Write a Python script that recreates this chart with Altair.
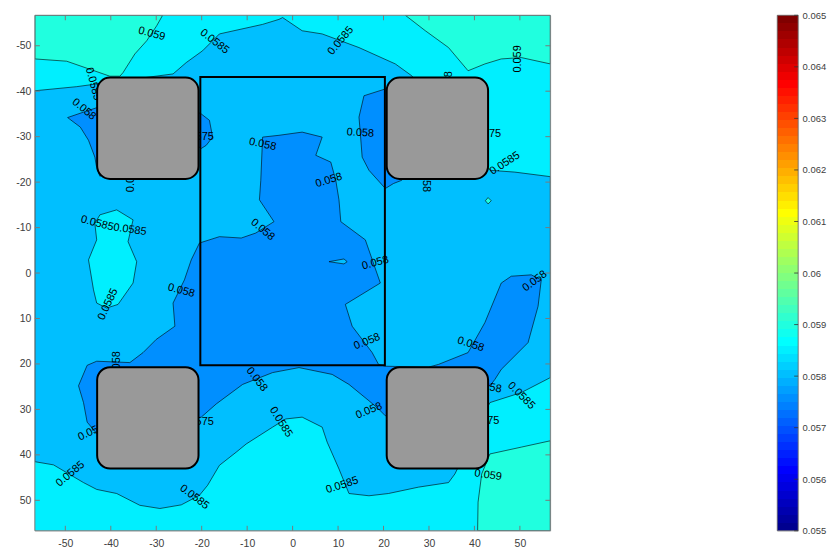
import altair as alt
import pandas as pd

# ---------------- values ----------------
FONT = "Liberation Sans"
X_DOMAIN = [-56.7, 56.7]
Y_DOMAIN = [-56.7, 56.7]
AXIS_TICKS = [-50, -40, -30, -20, -10, 0, 10, 20, 30, 40, 50]
CBAR_RANGE = [0.055, 0.065]
CBAR_TICKS = [0.055, 0.056, 0.057, 0.058, 0.059, 0.060, 0.061, 0.062, 0.063, 0.064, 0.065]

# fill colours of the contour bands (jet colours of the levels)
COL_D = "#008FFF"   # 0.0575 - 0.058
COL_M = "#00BFFF"   # 0.058 - 0.0585
COL_C = "#00EFFF"   # 0.0585 - 0.059
COL_G = "#20FFDF"   # > 0.059

E = 56.7  # edge of the plotted range

# region boundaries, data units (x, y)
G_TOP_LEFT = [(-E, -E), (-E, -47.1), (-49.7, -46.6), (-40.2, -43.3), (-38.0, -43.3), (-37.3, -44.1),
              (-34.7, -48.2), (-32.1, -51.1), (-29.9, -54.4), (-28.6, -E)]
G_TOP_RIGHT = [(24.8, -E), (29.2, -53.3), (34.3, -49.6), (38.6, -44.5), (42.3, -46.0), (45.9, -47.1),
               (50.3, -47.4), (E, -46.0), (E, -E)]
G_BOTTOM_RIGHT = [(E, 36.9), (50.3, 38.3), (43.4, 39.8), (41.6, 44.2), (40.8, 50.4), (40.7, E), (E, E)]
G_DOT = [(42.4, -15.9), (43.0, -16.6), (43.7, -15.9), (43.0, -15.2)]

M_MAIN = [(-E, -40.1), (-47.5, -41.0), (-43.1, -41.6), (-26.3, -43.8), (-23.4, -46.3), (-19.8, -48.9),
          (-16.1, -52.6), (-6.6, -54.7), (-3.0, -55.8), (-2.2, -56.2), (2.1, -53.3), (6.5, -52.6),
          (14.6, -49.6), (22.6, -46.0), (26.2, -43.4), (43.5, -22.6), (48.9, -22.2), (E, -21.2),
          (E, 23.0), (50.3, 26.3), (43.4, 28.5), (35.7, 44.2), (34.3, 46.1), (27.7, 47.1), (21.1, 48.5),
          (16.8, 49.0), (12.4, 48.5), (10.2, 43.1), (7.6, 37.2), (6.5, 33.9), (2.1, 31.7), (-1.5, 32.1),
          (-4.4, 33.9), (-10.2, 37.6), (-12.4, 39.4), (-16.1, 42.3), (-18.7, 46.7), (-20.5, 48.9),
          (-24.5, 51.0), (-29.2, 51.8), (-33.6, 51.1), (-38.7, 48.5), (-43.1, 47.6), (-46.0, 46.1),
          (-52.6, 42.2), (-E, 41.5)]
C_ISLAND = [(-38.7, -13.9), (-35.1, -11.7), (-36.2, -6.9), (-34.3, -2.5), (-35.1, 2.2), (-38.4, 6.9),
            (-40.9, 7.7), (-43.1, 6.6), (-43.8, 3.7), (-44.9, -2.9), (-43.1, -7.3), (-43.5, -10.9),
            (-42.4, -12.8)]
D_MAIN = [(-20.5, -6.6), (-22.3, -2.9), (-23.8, 1.5), (-26.3, 6.6), (-25.9, 11.7), (-30.0, 14.6),
          (-32.9, 17.5), (-35.8, 19.7), (-43.1, 19.4), (-45.2, 20.3), (-47.1, 24.8), (-46.0, 28.5),
          (-45.2, 32.8), (-43.0, 35.4), (-20.1, 31.7), (-16.8, 28.8), (-11.0, 24.5), (-4.4, 21.9),
          (1.4, 20.8), (8.7, 22.3), (12.4, 24.5), (16.8, 28.1), (18.9, 29.9), (20.4, 31.4), (29.0, 29.0),
          (43.5, 24.7), (44.5, 23.4), (45.9, 21.2), (51.8, 15.3), (54.0, 7.3), (54.7, 1.5), (52.5, 0.4),
          (48.1, 0.7), (45.9, 2.2), (42.3, 10.9), (38.6, 17.5), (32.1, 20.1), (29.9, 20.7), (20.4, 20.5),
          (18.9, 20.1), (17.5, 17.5), (13.1, 11.7), (11.6, 6.9), (19.3, 2.2), (16.0, -7.3), (10.6, -11.3),
          (10.2, -16.1), (9.5, -20.4), (8.4, -24.4), (5.1, -25.9), (6.5, -29.9), (2.1, -31.0),
          (-3.0, -30.3), (-6.6, -29.9), (-7.0, -20.4), (-7.3, -16.1), (-4.1, -11.3), (-8.1, -8.8),
          (-11.3, -7.7), (-16.1, -8.0)]
D_TOP_RIGHT = [(20.4, -40.5), (15.7, -39.0), (14.6, -34.3), (14.9, -30.7), (15.3, -25.5), (16.8, -22.6),
               (20.4, -18.6), (22.2, -19.7), (24.0, -20.4), (27.7, -27.0), (23.3, -40.1)]
D_LEFT_OF_TL = [(-49.5, -34.2), (-46.0, -35.4), (-43.0, -36.4), (-40.2, -35.8), (-40.2, -22.2),
                (-42.4, -21.3), (-43.2, -23.7), (-43.5, -25.5), (-44.9, -29.2), (-46.7, -32.1)]
D_RIGHT_OF_TL = [(-20.7, -35.3), (-20.1, -35.0), (-18.3, -33.6), (-17.6, -29.9), (-19.0, -28.1),
                 (-20.1, -27.4), (-22.7, -29.2)]
M_SLIVER = [(8.0, -2.5), (11.3, -3.1), (12.0, -2.5), (11.3, -2.0)]

# contour labels: text, x, y, rotation (deg)
LABEL_TEXT = ["0.059", "0.0585", "0.0585", "0.059", "0.058", "0.058", "0.058", "0.058", "0.0585",
              "0.058", "0.058", "0.0585", "0.0585", "0.0585", "0.058", "0.058", "0.058", "0.058",
              "0.058", "0.0585", "0.0585", "0.0585", "0.058", "0.0585", "0.0585", "0.059",
              "0.058", "0.0575", "0.0575", "0.0575", "0.0575", "0.058", "0.058", "0.058", "0.058",
              "0.058", "0.0585"]
LABEL_X = [-31.0, -17.2, 10.6, 49.6, -45.9, -6.6, 14.9, 8.0, 46.7,
           -6.6, -24.5, -43.0, -35.8, -40.6, 18.2, 16.4, 39.2, 53.3,
           -7.9, -48.9, -21.6, -2.6, 16.8, 10.9, 50.3, 43.0,
           -44.3, -21.0, 42.2, -21.0, 41.8, 43.0, 34.3, 29.3, -35.6,
           -38.6, -43.9]
LABEL_Y = [-52.6, -50.9, -51.1, -47.1, -36.0, -28.3, -30.8, -20.4, -24.1,
           -9.5, 3.9, -10.9, -9.5, 6.9, -2.2, 15.1, 15.7, 1.8,
           23.4, 44.2, 49.3, 32.8, 30.3, 46.7, 27.0, 44.5,
           35.0, -29.9, -30.5, 32.7, 32.6, 25.1, -41.4, -20.8, -20.8,
           20.2, -41.6]
LABEL_ANGLE = [15, 38, -50, -90, 40, 12, 3, -17, -33,
               40, 15, 15, 8, -65, -15, -22, 18, -37,
               52, -40, 37, 58, -22, -18, 45, 8,
               -25, 0, 0, 0, 0, 10, -90, 90, -90,
               -90, 75]

# obstacles: four rounded squares and the central rectangle
BOX_X1 = [-43.0, 20.7, -43.0, 20.7]
BOX_X2 = [-20.7, 43.0, -20.7, 43.0]
BOX_Y1 = [-43.0, -43.0, 20.7, 20.7]
BOX_Y2 = [-20.7, -20.7, 43.0, 43.0]
CENTER_X = [-20.3, 20.3]
CENTER_Y = [-43.1, 20.3]

# ---------------- chart ----------------
W, H = 518, 518
FRAME = "#7a7a7a"
TXT = "#404040"

xs = alt.Scale(domain=X_DOMAIN, nice=False, zero=False)
ys = alt.Scale(domain=Y_DOMAIN, nice=False, zero=False, reverse=True)
xaxis = alt.Axis(values=AXIS_TICKS, labelExpr="datum.value", tickSize=0, labelPadding=8, domain=False,
                 grid=False, labelFont=FONT, labelFontSize=10.5, labelColor=TXT, labelFlush=False, title=None)
yaxis = alt.Axis(values=AXIS_TICKS, labelExpr="datum.value", tickSize=0, labelPadding=4, domain=False,
                 grid=False, labelFont=FONT, labelFontSize=10.5, labelColor=TXT, labelFlush=False, title=None)


def X(f):
    return alt.X(f, scale=xs, axis=xaxis)


def Y(f):
    return alt.Y(f, scale=ys, axis=yaxis)


def poly_df(polys):
    rows = []
    for name, pts in polys:
        closed = list(pts) + [pts[0]]
        for i, (px, py) in enumerate(closed):
            rows.append({"pid": name, "i": i, "x": px, "y": py})
    return pd.DataFrame(rows)


def band(polys, color):
    return alt.Chart(poly_df(polys)).mark_line(
        fill=color, stroke="black", strokeWidth=0.6, clip=True, strokeJoin="round"
    ).encode(x=X("x:Q"), y=Y("y:Q"), detail="pid:N", order="i:Q")


dom = pd.DataFrame({"x1": [X_DOMAIN[0]], "x2": [X_DOMAIN[1]], "y1": [Y_DOMAIN[0]], "y2": [Y_DOMAIN[1]]})
background = alt.Chart(dom).mark_rect(fill=COL_C).encode(x=X("x1:Q"), x2="x2:Q", y=Y("y1:Q"), y2="y2:Q")
frame = alt.Chart(dom).mark_rect(fillOpacity=0, stroke=FRAME, strokeWidth=1).encode(
    x=X("x1:Q"), x2="x2:Q", y=Y("y1:Q"), y2="y2:Q")

layers = [
    background,
    band([("g1", G_TOP_LEFT), ("g2", G_TOP_RIGHT), ("g3", G_BOTTOM_RIGHT)], COL_G),
    band([("m1", M_MAIN)], COL_M),
    band([("c1", C_ISLAND)], COL_C),
    band([("d1", D_MAIN), ("d2", D_TOP_RIGHT), ("d3", D_LEFT_OF_TL), ("d4", D_RIGHT_OF_TL)], COL_D),
    band([("m2", M_SLIVER)], COL_M),
    band([("g4", G_DOT)], COL_G),
]

lab = pd.DataFrame({"t": LABEL_TEXT, "x": LABEL_X, "y": LABEL_Y,
                    "a": [a % 360 for a in LABEL_ANGLE]})
labels = alt.Chart(lab).mark_text(font=FONT, fontSize=11, color="black", align="center",
                                  baseline="middle", clip=True).encode(
    x=X("x:Q"), y=Y("y:Q"), text="t:N", angle=alt.Angle("a:Q", scale=None))
layers.append(labels)

boxes = alt.Chart(pd.DataFrame({"x1": BOX_X1, "x2": BOX_X2, "y1": BOX_Y1, "y2": BOX_Y2})).mark_rect(
    fill="#999999", stroke="black", strokeWidth=2, cornerRadius=13).encode(
    x=X("x1:Q"), x2="x2:Q", y=Y("y1:Q"), y2="y2:Q")
center = alt.Chart(pd.DataFrame({"x1": [CENTER_X[0]], "x2": [CENTER_X[1]],
                                 "y1": [CENTER_Y[0]], "y2": [CENTER_Y[1]]})).mark_rect(
    fillOpacity=0, stroke="black", strokeWidth=2).encode(x=X("x1:Q"), x2="x2:Q", y=Y("y1:Q"), y2="y2:Q")
layers += [boxes, center, frame]

tk = pd.DataFrame({"v": AXIS_TICKS})
layers += [
    alt.Chart(tk).mark_rule(color=FRAME, strokeWidth=1).encode(x=X("v:Q"), y=alt.value(H), y2=alt.value(H - 5)),
    alt.Chart(tk).mark_rule(color=FRAME, strokeWidth=1).encode(x=X("v:Q"), y=alt.value(0), y2=alt.value(5)),
    alt.Chart(tk).mark_rule(color=FRAME, strokeWidth=1).encode(y=Y("v:Q"), x=alt.value(0), x2=alt.value(5)),
    alt.Chart(tk).mark_rule(color=FRAME, strokeWidth=1).encode(y=Y("v:Q"), x=alt.value(W - 5), x2=alt.value(W)),
]

main = alt.layer(*layers).properties(width=W, height=H)


# ---------------- colorbar (MATLAB jet, 64 colours) ----------------
def jet64():
    m = 16
    u = [k / m for k in range(1, m + 1)] + [1.0] * (m - 1) + [k / m for k in range(m, 0, -1)]
    out = []
    for i in range(1, 65):
        r = u[i - 25] if 25 <= i <= 64 else 0.0
        g = u[i - 9] if 9 <= i <= 55 else 0.0
        b = u[i + 7] if 1 <= i <= 39 else 0.0
        out.append("#%02x%02x%02x" % (round(r * 255), round(g * 255), round(b * 255)))
    return out


stops = []
for k, c in enumerate(jet64()):
    stops.append({"offset": k / 64, "color": c})
    stops.append({"offset": (k + 1) / 64, "color": c})
grad = {"gradient": "linear", "x1": 0, "y1": 1, "x2": 0, "y2": 0, "stops": stops}

cbs = alt.Scale(domain=CBAR_RANGE, nice=False, zero=False)
cbaxis = alt.Axis(orient="right", values=CBAR_TICKS, labelExpr="format(datum.value, '.3~f')", tickSize=0,
                  labelPadding=4, domain=False, grid=False, labelFont=FONT, labelFontSize=9.5,
                  labelColor=TXT, title=None)
cbar = alt.Chart(pd.DataFrame({"lo": [CBAR_RANGE[0]], "hi": [CBAR_RANGE[1]]})).mark_rect(
    fill=grad, stroke="#6a6a6a", strokeWidth=0.8).encode(y=alt.Y("lo:Q", scale=cbs, axis=cbaxis), y2="hi:Q")
cbt = alt.Chart(pd.DataFrame({"v": CBAR_TICKS})).mark_rule(color="#333333", strokeWidth=0.8).encode(
    y=alt.Y("v:Q", scale=cbs, axis=cbaxis), x=alt.value(17), x2=alt.value(21))
colorbar = alt.layer(cbar, cbt).properties(width=21, height=H)

chart = alt.hconcat(main, colorbar, spacing=226).properties(
    padding={"left": 7, "top": 0, "right": 0, "bottom": 2}
).configure_view(strokeWidth=0).configure(font=FONT)

chart.save("out.html", embed_options={"renderer": "svg", "actions": False})
